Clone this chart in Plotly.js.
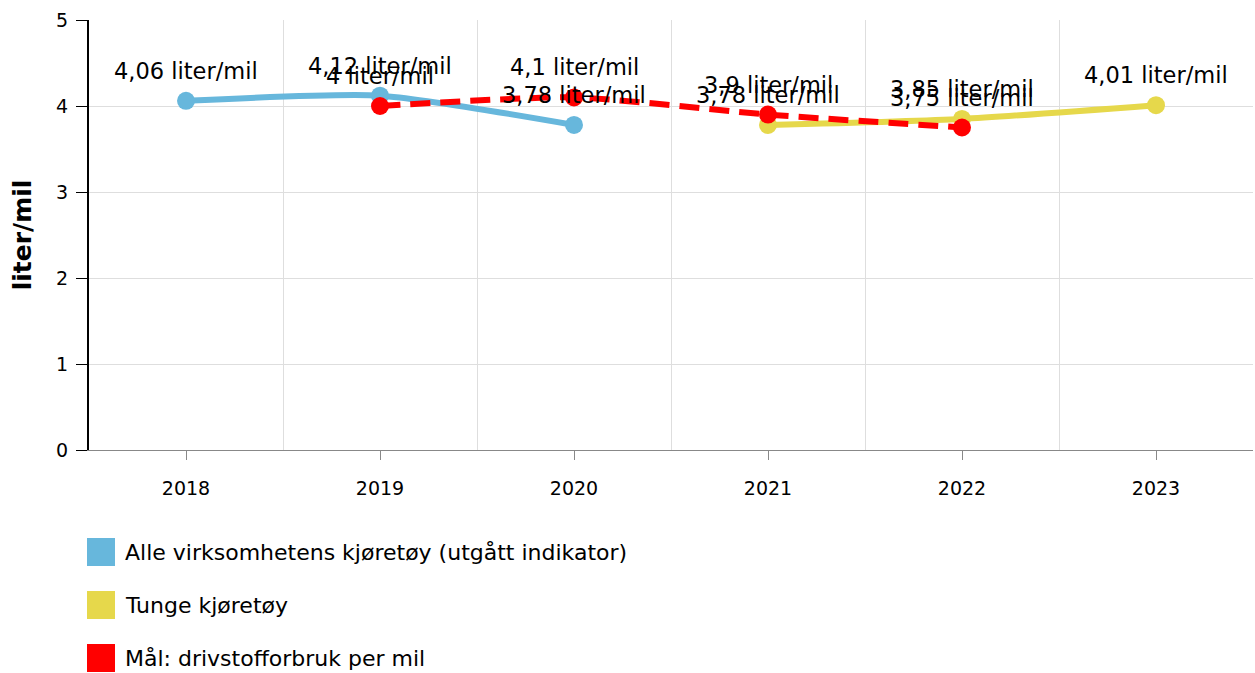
<!DOCTYPE html>
<html><head><meta charset="utf-8">
<script src="https://cdn.plot.ly/plotly-3.0.1.min.js"></script>
<style>html,body{margin:0;padding:0;background:#fff}#c{width:1255px;height:673px}</style>
</head><body><div id="c"></div>
<script>
var years = ['2018','2019','2020','2021','2022','2023'];
var allX = ['2018','2019','2020'];
var allY = [4.06, 4.12, 3.78];
var tungeX = ['2021','2022','2023'];
var tungeY = [3.78, 3.85, 4.01];
var maalX = ['2019','2020','2021','2022'];
var maalY = [4.0, 4.1, 3.9, 3.75];
var names = ['Alle virksomhetens kjøretøy (utgått indikator)','Tunge kjøretøy','Mål: drivstofforbruk per mil'];
var colors = ['#67b7dc','#e6d84b','#ff0000'];
var unit = ' liter/mil';

var FONT = 'DejaVu Sans, Verdana, sans-serif';
function idx(arr){ return arr.map(function(y){ return years.indexOf(y); }); }
function lbl(v){ return String(v).replace('.', ',') + unit; }

var series = [
  {x: allX, y: allY, c: colors[0], n: names[0], dash: 'solid'},
  {x: tungeX, y: tungeY, c: colors[1], n: names[1], dash: 'solid'},
  {x: maalX, y: maalY, c: colors[2], n: names[2], dash: '20px,10px'}
];

var traces = series.map(function(s){
  return {
    type: 'scatter', mode: 'lines+markers', name: s.n,
    x: idx(s.x), y: s.y,
    line: {color: s.c, width: 6, shape: 'spline', smoothing: 0.6, dash: s.dash},
    marker: {color: s.c, size: 18},
    showlegend: false, hoverinfo: 'skip', cliponaxis: false
  };
});

var annotations = [];
series.forEach(function(s){
  idx(s.x).forEach(function(xi, i){
    annotations.push({x: xi, y: s.y[i], xref: 'x', yref: 'y', text: lbl(s.y[i]),
      showarrow: false, yshift: 30, font: {family: FONT, size: 22.5, color: '#000'}});
  });
});

// legend (custom, square swatches)
var L = 89, T = 20, W = 1164, H = 430;
function px(x){ return (x - L) / W; }
function py(y){ return (T + H - y) / H; }
var shapes = [];
var legY = [552, 605, 658];
names.forEach(function(n, i){
  shapes.push({type: 'rect', xref: 'paper', yref: 'paper',
    x0: px(87), x1: px(115), y0: py(legY[i] - 14), y1: py(legY[i] + 14),
    fillcolor: colors[i], line: {width: 0}});
  annotations.push({xref: 'paper', yref: 'paper', x: px(123), y: py(legY[i]),
    xanchor: 'left', yanchor: 'middle', showarrow: false, text: n,
    font: {family: FONT, size: 22, color: '#000'}});
});

var layout = {
  width: 1255, height: 673,
  margin: {l: L, r: 1255 - L - W, t: T, b: 673 - T - H},
  paper_bgcolor: '#fff', plot_bgcolor: '#fff',
  font: {family: FONT, size: 19, color: '#000'},
  showlegend: false,
  xaxis: {
    range: [-0.5, 5.5], tickmode: 'array', tickvals: [0,1,2,3,4,5], ticktext: years,
    showgrid: false, zeroline: false,
    showline: true, linecolor: '#888', linewidth: 1,
    ticks: 'outside', ticklen: 9, tickcolor: '#888', tickwidth: 1,
    ticklabelstandoff: 12,
    tickfont: {family: FONT, size: 19, color: '#000'},
    minor: {tickmode: 'array', tickvals: [0.5,1.5,2.5,3.5,4.5,5.5], showgrid: true, gridcolor: '#dedede', gridwidth: 1, ticks: ''},
    fixedrange: true
  },
  yaxis: {
    range: [0, 5], tickmode: 'array', tickvals: [0,1,2,3,4,5],
    showgrid: true, gridcolor: '#dedede', gridwidth: 1, zeroline: false,
    showline: true, linecolor: '#000', linewidth: 2,
    ticks: 'outside', ticklen: 11, tickcolor: '#000', tickwidth: 1,
    ticklabelstandoff: 4,
    tickfont: {family: FONT, size: 19, color: '#000'},
    title: {text: '<b>liter/mil</b>', font: {family: FONT, size: 25, color: '#000'}, standoff: 17},
    fixedrange: true
  },
  shapes: shapes,
  annotations: annotations
};

Plotly.newPlot('c', traces, layout, {displayModeBar: false, staticPlot: true});
</script>
</body></html>
